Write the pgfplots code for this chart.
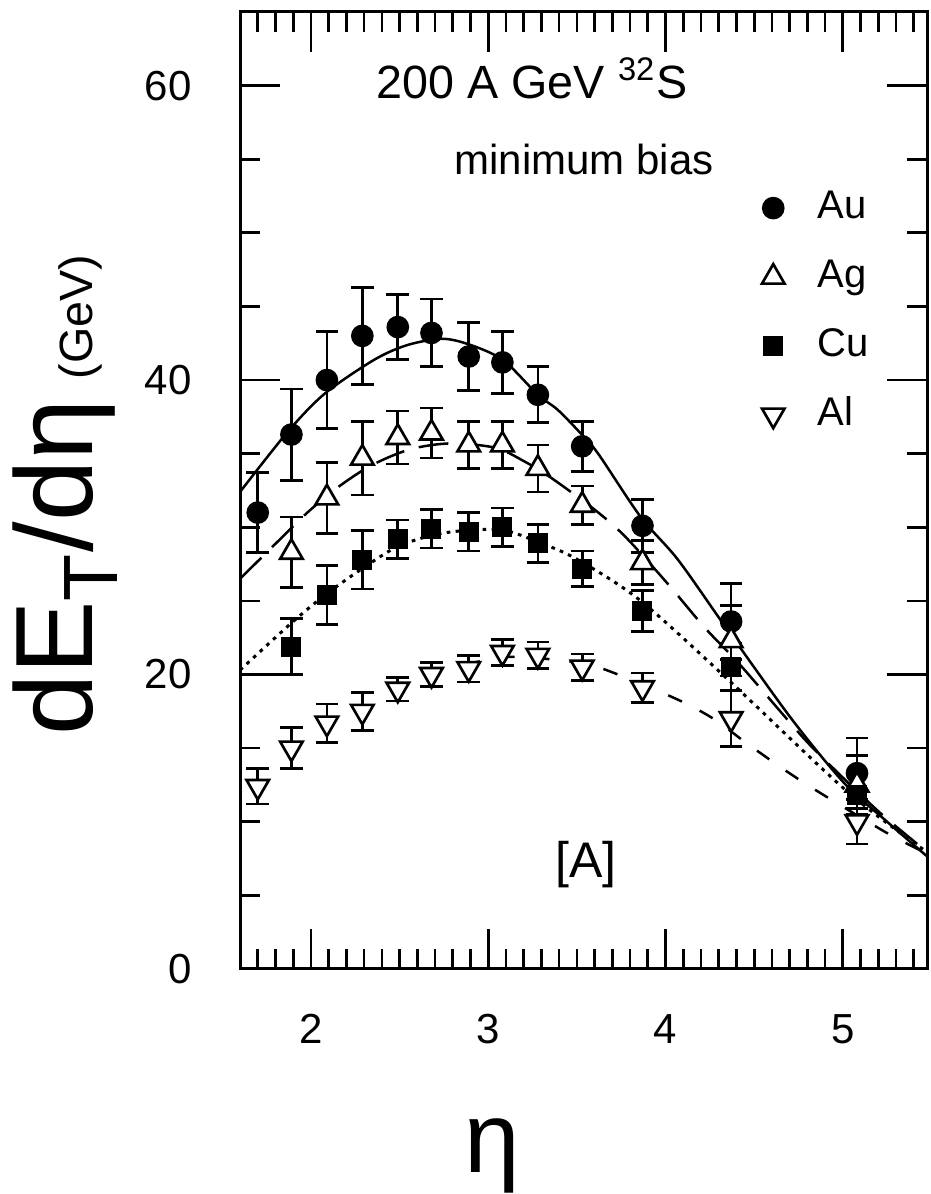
\documentclass[border=0pt]{standalone}
\usepackage{pgfplots}
\pgfplotsset{compat=1.18}
\usepackage{pgfplotstable}
\usepackage{fontspec}
\setmainfont{Liberation Sans}

\pgfplotstableread{
x    y    e
1.70 31.0 2.7
1.89 36.3 3.1
2.09 40.0 3.3
2.29 43.0 3.3
2.49 43.6 2.2
2.68 43.2 2.3
2.89 41.6 2.3
3.08 41.2 2.1
3.28 39.0 1.9
3.53 35.5 1.7
3.87 30.1 1.8
4.37 23.6 2.6
5.08 13.3 2.4
}\Au
\pgfplotstableread{
x    y    e
1.89 28.3 2.4
2.09 32.0 2.4
2.29 34.7 2.5
2.49 36.1 1.8
2.68 36.4 1.7
2.89 35.6 1.6
3.08 35.6 1.6
3.28 34.0 1.6
3.53 31.5 1.3
3.87 27.6 1.5
4.37 22.3 2.4
5.08 12.5 2.0
}\Ag
\pgfplotstableread{
x    y    e
1.89 21.9 1.9
2.09 25.4 2.0
2.29 27.8 2.0
2.49 29.2 1.3
2.68 29.9 1.3
2.89 29.7 1.3
3.08 30.0 1.3
3.28 28.9 1.3
3.53 27.2 1.2
3.87 24.3 1.4
4.37 20.5 1.6
5.08 11.8 1.5
}\Cu
\pgfplotstableread{
x    y    e
1.70 12.4 1.2
1.89 15.0 1.4
2.09 16.7 1.3
2.29 17.5 1.3
2.49 19.0 0.8
2.68 20.0 0.8
2.89 20.4 0.9
3.08 21.5 0.9
3.28 21.3 0.9
3.53 20.5 0.9
3.87 19.1 1.0
4.37 17.0 1.9
5.08 10.0 1.5
}\Al

\begin{document}
\begin{tikzpicture}
\begin{axis}[
  scale only axis,
  width=206.1pt, height=287.1pt,
  xmin=1.6, xmax=5.475, ymin=0, ymax=65,
  axis line style={line width=0.9pt},
  xtick={2,3,4,5},
  minor xtick={1.7,1.8,1.9,2.1,2.2,2.3,2.4,2.5,2.6,2.7,2.8,2.9,3.1,3.2,3.3,3.4,3.5,3.6,3.7,3.8,3.9,4.1,4.2,4.3,4.4,4.5,4.6,4.7,4.8,4.9,5.1,5.2,5.3,5.4},
  ytick={0,20,40,60},
  minor ytick={5,10,15,25,30,35,45,50,55},
  tick align=inside,
  major tick length=12pt, minor tick length=6pt,
  every tick/.style={line width=0.8pt, black},
  tick label style={font=\fontsize{12.6}{14}\selectfont},
  /pgf/number format/assume math mode=true,
  yticklabel style={xshift=-11pt},
  xticklabel style={yshift=-10pt},
  xlabel={η},
  xlabel style={at={(axis description cs:0.367,-0.195)}, anchor=center, font=\fontsize{30}{34}\selectfont},
  ylabel={{\fontsize{33}{37}\selectfont dE\textsubscript{T}/dη}\hspace{6pt}{\fontsize{14}{16}\selectfont (GeV)}},
  ylabel style={at={(axis description cs:-0.2547,0.495)}, anchor=center},
  legend image code/.code={\draw[#1] plot coordinates {(0pt,0pt)};},
  legend style={draw=none, fill=none, at={(axis cs:4.484,53.4)}, anchor=north west,
    font=\fontsize{12}{14}\selectfont, row sep=9.9pt, column sep=10pt,
    nodes={inner sep=0pt, text height=8.6pt, text depth=2.2pt}},
  legend cell align=left,
  error bars/error bar style={line width=0.8pt, black},
  error bars/error mark options={rotate=90, line width=0.8pt, black, mark size=3.4pt},
]
% model curves
\addplot[black, line width=0.75pt, smooth, forget plot] coordinates {
(1.60,32.4) (1.87,36.5) (2.08,39.1) (2.36,41.4) (2.55,42.4) (2.75,42.8) (2.92,42.3) (3.09,41.3) (3.28,39.0) (3.39,38.0) (3.52,36.4) (3.62,35.0) (3.86,30.7) (4.07,27.8) (4.34,23.2) (4.71,17.0) (5.01,12.6) (5.25,10.0) (5.48,7.6)};
\addplot[black, line width=0.75pt, smooth, dash pattern=on 9pt off 4.5pt, forget plot] coordinates {
(1.60,26.5) (1.81,29.0) (1.98,31.0) (2.15,32.7) (2.34,34.2) (2.56,35.3) (2.79,35.7) (3.04,35.4) (3.20,34.5) (3.35,33.4) (3.60,31.2) (3.77,29.4) (4.01,26.2) (4.22,23.2) (4.41,20.8) (4.64,17.6) (4.80,15.4) (5.00,13.0) (5.22,10.5) (5.48,7.9)};
\addplot[black, line width=0.9pt, smooth, dash pattern=on 1.1pt off 1.6pt, forget plot] coordinates {
(1.60,20.3) (1.89,23.5) (2.08,25.4) (2.29,27.2) (2.49,28.7) (2.70,29.5) (2.89,29.8) (3.09,29.8) (3.28,29.0) (3.49,27.9) (3.85,25.1) (4.34,19.8) (5.03,12.0) (5.48,7.9)};
\addplot[black, line width=0.75pt, smooth, dash pattern=on 4.5pt off 6pt, forget plot] coordinates {
(2.87,20.7) (3.00,21.0) (3.13,21.2) (3.38,21.0) (3.62,20.5) (4.05,18.4) (4.27,17.0) (4.45,15.4) (4.65,13.7) (4.84,12.2) (5.24,9.3) (5.48,7.8)};
% data
\addplot[only marks, mark=*, mark size=3.2pt, mark options={black, fill=black},
  error bars/.cd, y dir=both, y explicit] table[x=x, y=y, y error=e] {\Au};
\addlegendentry{Au}
\addplot[only marks, mark=triangle*, mark size=3.9pt, mark options={black, fill=white, line width=0.8pt},
  error bars/.cd, y dir=both, y explicit] table[x=x, y=y, y error=e] {\Ag};
\addlegendentry{Ag}
\addplot[only marks, mark=square*, mark size=2.8pt, mark options={black, fill=black},
  error bars/.cd, y dir=both, y explicit] table[x=x, y=y, y error=e] {\Cu};
\addlegendentry{Cu}
\addplot[only marks, mark=triangle*, mark size=3.9pt, mark options={black, fill=white, line width=0.8pt, rotate=180},
  error bars/.cd, y dir=both, y explicit] table[x=x, y=y, y error=e] {\Al};
\addlegendentry{Al}
\node[font=\fontsize{14}{16}\selectfont] at (axis cs:3.247,60.5) {200 A GeV \textsuperscript{32}S};
\node[font=\fontsize{12.6}{14}\selectfont] at (axis cs:3.54,55.0) {minimum bias};
\node[font=\fontsize{15}{17}\selectfont] at (axis cs:3.55,7.07) {[A]};
\coordinate (bl) at (rel axis cs:0,0);
\coordinate (tr) at (rel axis cs:1,1);
\end{axis}
\pgfresetboundingbox
\path ([shift={(-72pt,-67.5pt)}]bl) rectangle ([shift={(0.9pt,3.6pt)}]tr);
\end{tikzpicture}
\end{document}
